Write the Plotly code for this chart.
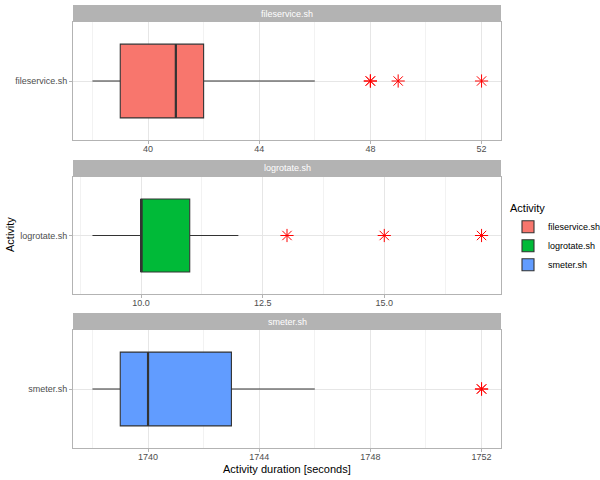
import plotly.graph_objects as go

# ---------------- data ----------------
activities = ["fileservice.sh", "logrotate.sh", "smeter.sh"]
colors = ["#F8766D", "#00BA38", "#619CFF"]
lower_whisker = [38, 9, 1738]
q1 = [39, 10, 1739]
median = [41, 10, 1740]
q3 = [42, 11, 1743]
upper_whisker = [46, 12, 1746]
outliers = [[48, 48, 49, 52], [13, 15, 17], [1752, 1752]]
x_ticks = [[40, 44, 48, 52], [10.0, 12.5, 15.0], [1740, 1744, 1748, 1752]]
tick_labels = [["40", "44", "48", "52"], ["10.0", "12.5", "15.0"],
               ["1740", "1744", "1748", "1752"]]

# ---------------- layout geometry (pixels) ----------------
W, H = 600, 480
left, right, top, bottom = 73, 501, 5, 448
ph = bottom - top
panels_px = [(22, 140), (177, 294), (330, 448)]   # panel top/bottom
strip_px = [(5, 22), (160, 177), (313, 330)]


def py(p):
    return (bottom - p) / ph


FONT = "Liberation Sans"
fig = go.Figure()
shapes = []
annotations = []

for i, act in enumerate(activities):
    n = "" if i == 0 else str(i + 1)
    xa, ya = "x" + n, "y" + n
    fig.add_trace(go.Box(
        y=[act], q1=[q1[i]], median=[median[i]], q3=[q3[i]],
        lowerfence=[lower_whisker[i]], upperfence=[upper_whisker[i]],
        orientation="h", name=act, fillcolor=colors[i],
        line=dict(color="#333333", width=1.1), width=0.75,
        whiskerwidth=0, boxpoints=False, xaxis=xa, yaxis=ya,
        legendgroup=act, showlegend=True, hoverinfo="skip",
    ))
    fig.add_trace(go.Scatter(
        x=outliers[i], y=[act] * len(outliers[i]), mode="markers",
        marker=dict(symbol="asterisk-open", size=11, color="red",
                    line=dict(color="red", width=1)),
        xaxis=xa, yaxis=ya, showlegend=False, hoverinfo="skip",
    ))
    # thicker median line (ggplot fatten)
    shapes.append(dict(type="line", xref=xa, yref=ya, x0=median[i], x1=median[i],
                       y0=-0.375, y1=0.375, line=dict(color="#333333", width=2.2),
                       layer="above"))

    vals = [v for v in [lower_whisker[i], upper_whisker[i]] + outliers[i]]
    lo, hi = min(vals), max(vals)
    ex = (hi - lo) * 0.05
    ticks = x_ticks[i]
    step = ticks[1] - ticks[0]
    minor_vals = [ticks[0] - step / 2] + [t + step / 2 for t in ticks]

    pt, pb = panels_px[i]
    st, sb = strip_px[i]
    axis_common = dict(
        showline=True, mirror=True, linecolor="#B3B3B3", linewidth=1,
        ticks="outside", ticklen=3, tickcolor="#B3B3B3", tickwidth=0.6,
        tickfont=dict(family=FONT, size=9, color="#4D4D4D"),
        gridcolor="#E6E6E6", gridwidth=0.8, zeroline=False,
    )
    fig.layout["xaxis" + n] = dict(
        axis_common, domain=[0, 1], anchor=ya, range=[lo - ex, hi + ex],
        tickmode="array", tickvals=ticks, ticktext=tick_labels[i],
        ticklabelstandoff=-3,
        minor=dict(tickmode="array", tickvals=minor_vals, showgrid=True,
                   gridcolor="#F2F2F2", gridwidth=0.5, ticks=""),
    )
    fig.layout["yaxis" + n] = dict(
        axis_common, domain=[py(pb), py(pt)], anchor=xa, type="category",
        range=[-0.6, 0.6],
    )
    shapes.append(dict(type="rect", xref="paper", yref="paper", x0=0, x1=1,
                       y0=py(sb), y1=py(st), fillcolor="#B3B3B3",
                       line=dict(width=0), layer="below"))
    annotations.append(dict(text=act, xref="paper", yref="paper", x=0.5,
                            y=(py(sb) + py(st)) / 2, showarrow=False,
                            xanchor="center", yanchor="middle",
                            font=dict(family=FONT, size=9, color="white")))

annotations.append(dict(text="Activity duration [seconds]", xref="paper", yref="paper",
                        x=0.5, y=py(469), showarrow=False, xanchor="center",
                        yanchor="middle", font=dict(family=FONT, size=11, color="black")))
annotations.append(dict(text="Activity", xref="paper", yref="paper",
                        x=(10 - left) / (right - left), y=py(235), showarrow=False,
                        textangle=-90, xanchor="center", yanchor="middle",
                        font=dict(family=FONT, size=11, color="black")))

fig.update_layout(
    width=W, height=H,
    margin=dict(l=left, r=W - right, t=top, b=H - bottom, autoexpand=False),
    plot_bgcolor="white", paper_bgcolor="white",
    shapes=shapes, annotations=annotations,
    legend=dict(title=dict(text="Activity", font=dict(family=FONT, size=11, color="black")),
                font=dict(family=FONT, size=9, color="black"),
                xref="container", yref="container",
                x=508 / W, xanchor="left",
                y=1 - 198 / H, yanchor="top", tracegroupgap=0, itemwidth=30,
                bgcolor="rgba(0,0,0,0)"),
    font=dict(family=FONT),
)

fig.write_html("out.html", config={"displayModeBar": False},
               post_script="document.body.style.margin='0';")
